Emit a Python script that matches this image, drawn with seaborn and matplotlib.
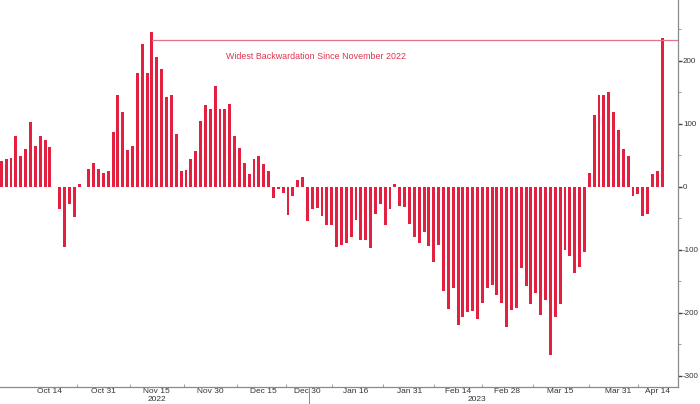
import matplotlib
matplotlib.use("Agg")
import pandas as pd
import matplotlib.pyplot as plt
import seaborn as sns

# daily spread values, one per trading day (UK calendar) from 30 Sep 2022
spread = [
    40, 44, 46, 80, 49, 60, 102, 64, 80, 74,
    63, -1, -35, -95, -27, -48, 5, -1, 28, 38,
    28, 22, 25, 87, 145, 119, 58, 65, 180, 226,
    181, 246, 206, 187, 142, 145, 84, 25, 26, 44,
    57, 104, 129, 123, 160, 124, 124, 131, 81, 62,
    37, 20, 44, 48, 36, 25, -18, -3, -10, -45,
    -15, 10, 15, -54, -36, -33, -47, -60, -60, -95,
    -92, -89, -79, -53, -85, -84, -97, -43, -28, -60,
    -35, 4, -31, -32, -59, -79, -89, -71, -94, -119,
    -92, -166, -194, -160, -219, -207, -198, -197, -210, -185,
    -160, -155, -172, -184, -223, -195, -193, -129, -158, -186,
    -169, -203, -180, -267, -206, -186, -100, -110, -137, -128,
    -104, 22, 114, 145, 145, 150, 119, 90, 60, 48,
    -15, -12, -46, -43, 20, 25, 235,
]
holidays = ["2022-12-26", "2022-12-27", "2023-01-02", "2023-04-07", "2023-04-10"]
tick_dates = ["2022-10-14", "2022-10-31", "2022-11-15", "2022-11-30", "2022-12-15",
              "2022-12-30", "2023-01-16", "2023-01-31", "2023-02-14", "2023-02-28",
              "2023-03-15", "2023-03-31", "2023-04-14"]
tick_labels = ["Oct 14", "Oct 31", "Nov 15", "Nov 30", "Dec 15", "Dec 30", "Jan 16",
               "Jan 31", "Feb 14", "Feb 28", "Mar 15", "Mar 31", "Apr 14"]
note = "Widest Backwardation Since November 2022"

dates = pd.bdate_range("2022-09-30", periods=len(spread), freq="C", holidays=holidays)
df = pd.DataFrame({"date": dates, "spread": spread})
df["day"] = range(len(df))

red = "#e3203f"
grey = "#8a8a8a"
txt = "#333333"
plt.rcParams["font.family"] = ["Liberation Sans", "DejaVu Sans"]
plt.rcParams["axes.unicode_minus"] = False

fig = plt.figure(figsize=(7, 4.04), dpi=100)
ax = fig.add_axes([0, 1 - 386.7 / 404, 677.7 / 700, 386.7 / 404])
sns.barplot(x="day", y="spread", data=df, color=red, saturation=1, width=0.6,
            edgecolor="none", ax=ax)

ax.set_xlim(-0.27, 139.2)
ax.set_ylim(-317, 296)
ax.set_xlabel("")
ax.set_ylabel("")

# reference line at today's level, back to the last time it was wider
peak = int(df.loc[df["date"] < "2022-12-01", "spread"].idxmax())
last = df["spread"].iloc[-1]
ax.plot([peak, 139.2], [last - 2, last - 2], color="#e07585", lw=0.9, clip_on=False)
ax.text(46.2, 206, note, color="#e0324d", fontsize=6.4, ha="left", va="center")

for s in ["left", "top"]:
    ax.spines[s].set_visible(False)
for s in ["right", "bottom"]:
    ax.spines[s].set_color(grey)
    ax.spines[s].set_linewidth(0.9)

pos = [dates.get_loc(pd.Timestamp(d)) for d in tick_dates]
ax.set_xticks(pos)
ax.set_xticklabels(tick_labels)
mids = [(a + b) / 2 for a, b in zip(pos[:-1], pos[1:])]
ax.set_xticks(mids, minor=True)
ax.tick_params(axis="x", which="major", length=0, pad=0.8, labelsize=6, labelcolor=txt)
ax.tick_params(axis="x", which="minor", length=2, direction="in", color=grey)

ax.yaxis.tick_right()
ax.set_yticks(range(-300, 201, 100))
ax.set_yticks(range(-250, 251, 100), minor=True)
ax.tick_params(axis="y", which="major", length=3, width=1, color="#444444",
               labelsize=5.8, labelcolor=txt, pad=0.8)
ax.tick_params(axis="y", which="minor", length=2, color=grey)

# year separator and year labels
xt = ax.get_xaxis_transform()
sep = dates.get_loc(pd.Timestamp("2022-12-30")) + 0.4
ax.plot([sep, sep], [0, -0.045], transform=xt, color=grey, lw=0.7, clip_on=False)
ax.text(pos[2], -0.033, "2022", transform=xt, ha="center", va="center",
        fontsize=6, color=txt)
ax.text((sep + 139.2) / 2 - 3.5, -0.033, "2023", transform=xt, ha="center", va="center",
        fontsize=6, color=txt)

fig.savefig("out.png", dpi=100, facecolor="white")
